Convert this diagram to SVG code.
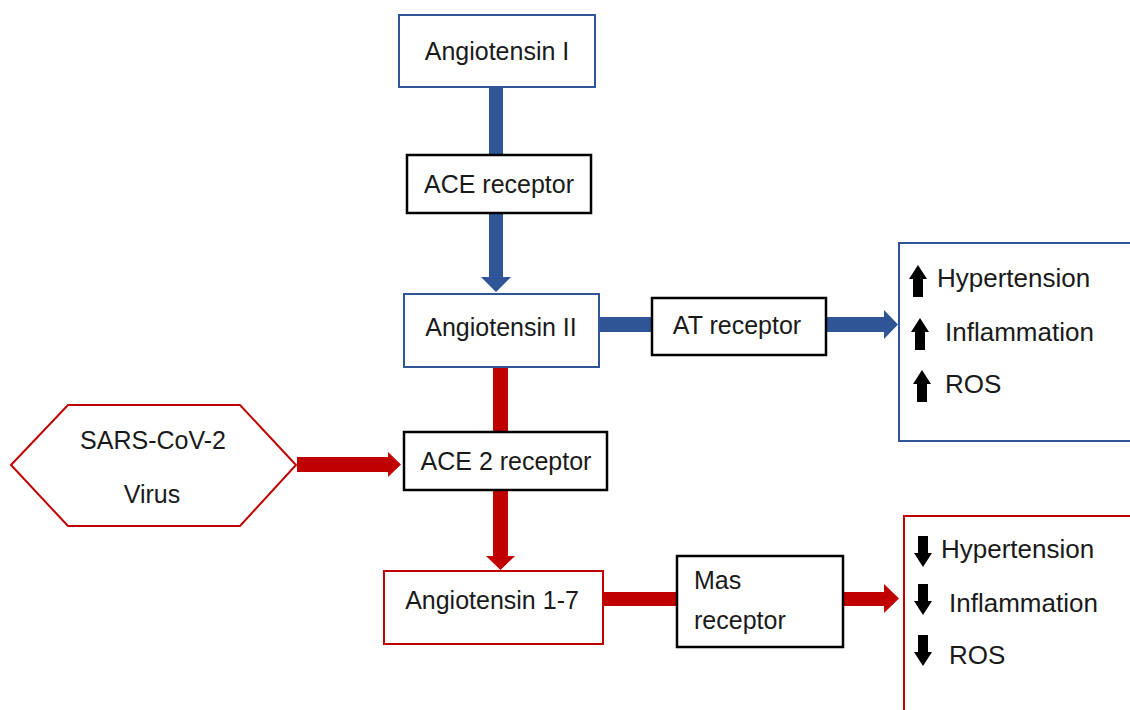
<svg xmlns="http://www.w3.org/2000/svg" width="1130" height="710" viewBox="0 0 1130 710">
<defs>
<style>
text{font-family:"Liberation Sans",Arial,sans-serif;font-size:25px;fill:#1a1a1a}
.lst{font-size:26px}
.blue{fill:#fff;stroke:#2F5597;stroke-width:2}
.red{fill:#fff;stroke:#C00000;stroke-width:2}
.blk{fill:#fff;stroke:#000;stroke-width:2.5}
.cb{fill:#2F5597}
.cr{fill:#C00000}
.mid{text-anchor:middle}
</style>
<path id="up" d="M0,0 L9,14 L5,14 L5,32 L-5,32 L-5,14 L-9,14 Z" fill="#000"/>
<path id="down" d="M0,0 L9,-14 L5,-14 L5,-31 L-5,-31 L-5,-14 L-9,-14 Z" fill="#000"/>
</defs>
<rect width="1130" height="710" fill="#fff"/>
<g id="connectors">
<polygon class="cb" points="489,87 503,87 503,277 511,277 496,292 481,277 489,277"/>
<polygon class="cb" points="600,317 884,317 884,310 898,324.5 884,339 884,332 600,332"/>
<polygon class="cr" points="493,367 508,367 508,556 515,556 500.5,570 486,556 493,556"/>
<polygon class="cr" points="297,457 388,457 388,452 401,464.5 388,477 388,472 297,472"/>
<polygon class="cr" points="603,592 884,592 884,584 899,598.5 884,613 884,606 603,606"/>
</g>
<g id="angiotensin1">
<rect class="blue" x="399" y="15" width="196" height="72"/>
<text class="mid" x="497" y="60">Angiotensin I</text>
</g>
<g id="ace">
<rect class="blk" x="407" y="155" width="184" height="58"/>
<text class="mid" x="499" y="193">ACE receptor</text>
</g>
<g id="angiotensin2">
<rect class="blue" x="404" y="294" width="195" height="73"/>
<text class="mid" x="501" y="336">Angiotensin II</text>
</g>
<g id="at">
<rect class="blk" x="652" y="298" width="174" height="57"/>
<text class="mid" x="737" y="334">AT receptor</text>
</g>
<g id="effects-up">
<rect class="blue" x="899" y="243" width="240" height="198"/>
<use href="#up" x="918" y="265"/>
<text class="lst" x="937" y="287">Hypertension</text>
<use href="#up" x="920" y="318"/>
<text class="lst" x="945" y="341">Inflammation</text>
<use href="#up" x="922" y="370"/>
<text class="lst" x="945" y="393">ROS</text>
</g>
<g id="virus">
<polygon class="red" points="11,465 68,405 240,405 296,465 240,526 68,526"/>
<text class="mid" x="153" y="449">SARS-CoV-2</text>
<text class="mid" x="152" y="503">Virus</text>
</g>
<g id="ace2">
<rect class="blk" x="404" y="432" width="203" height="58"/>
<text class="mid" x="506" y="470">ACE 2 receptor</text>
</g>
<g id="angiotensin17">
<rect class="red" x="384" y="571" width="219" height="73"/>
<text class="mid" x="492" y="609">Angiotensin 1-7</text>
</g>
<g id="mas">
<rect class="blk" x="677" y="556" width="166" height="91"/>
<text x="694" y="589">Mas</text>
<text x="694" y="629">receptor</text>
</g>
<g id="effects-down">
<rect class="red" x="904" y="516" width="240" height="210"/>
<use href="#down" x="923" y="567"/>
<text class="lst" x="941" y="558">Hypertension</text>
<use href="#down" x="923" y="615"/>
<text class="lst" x="949" y="612">Inflammation</text>
<use href="#down" x="923" y="666"/>
<text class="lst" x="949" y="664">ROS</text>
</g>
</svg>
